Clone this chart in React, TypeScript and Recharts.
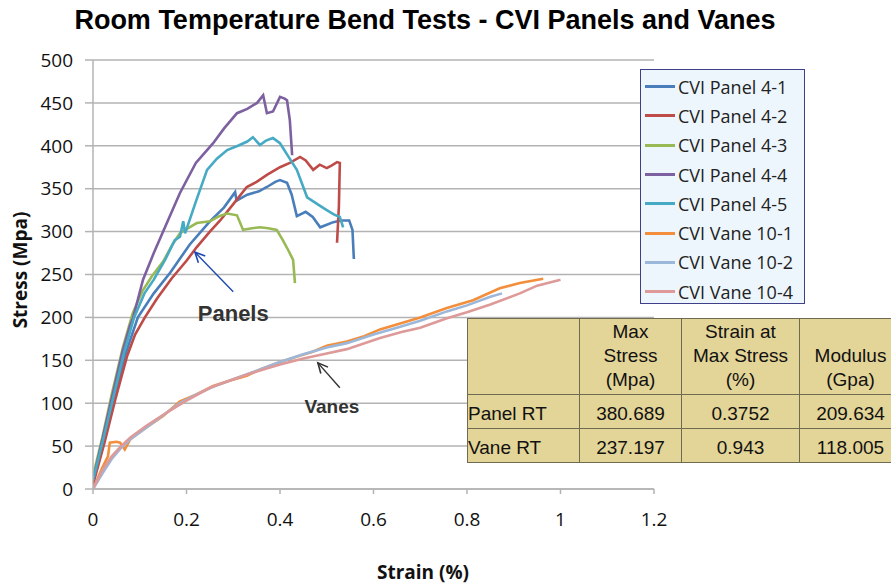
import { LineChart, Line, XAxis, YAxis, CartesianGrid, Legend, ReferenceLine, ReferenceDot } from 'recharts';

const FONT = '"Open Sans", sans-serif';
const ARIAL = '"Liberation Sans", Arial, sans-serif';

// strain (%) / stress (MPa)
const panel41 = [
  { strain: 0, stress: 8 }, { strain: 0.023, stress: 55 }, { strain: 0.045, stress: 105 }, { strain: 0.068, stress: 155 },
  { strain: 0.096, stress: 200 }, { strain: 0.13, stress: 228 }, { strain: 0.165, stress: 252 }, { strain: 0.207, stress: 285 },
  { strain: 0.25, stress: 312 }, { strain: 0.28, stress: 328 }, { strain: 0.304, stress: 346 }, { strain: 0.307, stress: 336 },
  { strain: 0.33, stress: 343 }, { strain: 0.355, stress: 347 }, { strain: 0.372, stress: 352 }, { strain: 0.39, stress: 358 },
  { strain: 0.4, stress: 360 }, { strain: 0.415, stress: 357 }, { strain: 0.425, stress: 343 }, { strain: 0.436, stress: 318 },
  { strain: 0.455, stress: 323 }, { strain: 0.47, stress: 317 }, { strain: 0.486, stress: 305 }, { strain: 0.5, stress: 308 },
  { strain: 0.514, stress: 311 }, { strain: 0.53, stress: 313 }, { strain: 0.548, stress: 313 }, { strain: 0.555, stress: 302 },
  { strain: 0.558, stress: 268 },
];
const panel42 = [
  { strain: 0, stress: 5 }, { strain: 0.025, stress: 55 }, { strain: 0.048, stress: 105 }, { strain: 0.073, stress: 155 },
  { strain: 0.09, stress: 180 }, { strain: 0.111, stress: 200 }, { strain: 0.137, stress: 222 }, { strain: 0.169, stress: 246 },
  { strain: 0.2, stress: 266 }, { strain: 0.222, stress: 282 }, { strain: 0.25, stress: 300 }, { strain: 0.272, stress: 313 },
  { strain: 0.3, stress: 332 }, { strain: 0.329, stress: 352 }, { strain: 0.35, stress: 358 }, { strain: 0.372, stress: 366 },
  { strain: 0.4, stress: 375 }, { strain: 0.421, stress: 380 }, { strain: 0.443, stress: 387 }, { strain: 0.455, stress: 383 },
  { strain: 0.471, stress: 372 }, { strain: 0.485, stress: 378 }, { strain: 0.5, stress: 374 }, { strain: 0.51, stress: 377 },
  { strain: 0.522, stress: 381 }, { strain: 0.528, stress: 380 }, { strain: 0.526, stress: 330 }, { strain: 0.522, stress: 287 },
];
const panel43 = [
  { strain: 0, stress: 15 }, { strain: 0.02, stress: 60 }, { strain: 0.04, stress: 110 }, { strain: 0.064, stress: 165 },
  { strain: 0.085, stress: 205 }, { strain: 0.105, stress: 230 }, { strain: 0.126, stress: 248 }, { strain: 0.15, stress: 265 },
  { strain: 0.17, stress: 285 }, { strain: 0.186, stress: 298 }, { strain: 0.2, stress: 303 }, { strain: 0.222, stress: 310 },
  { strain: 0.25, stress: 312 }, { strain: 0.27, stress: 318 }, { strain: 0.287, stress: 321 }, { strain: 0.308, stress: 319 },
  { strain: 0.321, stress: 302 }, { strain: 0.34, stress: 304 }, { strain: 0.357, stress: 305 }, { strain: 0.375, stress: 304 },
  { strain: 0.393, stress: 302 }, { strain: 0.406, stress: 290 }, { strain: 0.418, stress: 278 }, { strain: 0.428, stress: 267 },
  { strain: 0.432, stress: 240 },
];
const panel44 = [
  { strain: 0, stress: 10 }, { strain: 0.021, stress: 60 }, { strain: 0.042, stress: 110 }, { strain: 0.063, stress: 160 },
  { strain: 0.079, stress: 190 }, { strain: 0.086, stress: 200 }, { strain: 0.107, stress: 244 }, { strain: 0.13, stress: 275 },
  { strain: 0.15, stress: 300 }, { strain: 0.186, stress: 345 }, { strain: 0.22, stress: 380 }, { strain: 0.257, stress: 403 },
  { strain: 0.28, stress: 420 }, { strain: 0.308, stress: 438 }, { strain: 0.33, stress: 443 }, { strain: 0.351, stress: 450 },
  { strain: 0.364, stress: 459 }, { strain: 0.372, stress: 438 }, { strain: 0.385, stress: 440 }, { strain: 0.4, stress: 457 },
  { strain: 0.41, stress: 455 }, { strain: 0.415, stress: 453 }, { strain: 0.421, stress: 430 }, { strain: 0.426, stress: 389 },
];
const panel45 = [
  { strain: 0, stress: 10 }, { strain: 0.022, stress: 58 }, { strain: 0.044, stress: 108 }, { strain: 0.066, stress: 158 },
  { strain: 0.088, stress: 200 }, { strain: 0.11, stress: 228 }, { strain: 0.13, stress: 244 }, { strain: 0.155, stress: 268 },
  { strain: 0.175, stress: 290 }, { strain: 0.186, stress: 294 }, { strain: 0.193, stress: 312 }, { strain: 0.197, stress: 298 },
  { strain: 0.22, stress: 335 }, { strain: 0.244, stress: 372 }, { strain: 0.265, stress: 385 }, { strain: 0.287, stress: 395 },
  { strain: 0.31, stress: 400 }, { strain: 0.33, stress: 405 }, { strain: 0.342, stress: 410 }, { strain: 0.357, stress: 401 },
  { strain: 0.37, stress: 406 }, { strain: 0.385, stress: 409 }, { strain: 0.4, stress: 403 }, { strain: 0.415, stress: 390 },
  { strain: 0.436, stress: 372 }, { strain: 0.458, stress: 340 }, { strain: 0.48, stress: 332 }, { strain: 0.5, stress: 325 },
  { strain: 0.515, stress: 320 }, { strain: 0.528, stress: 317 }, { strain: 0.535, stress: 305 },
];
const vane101 = [
  { strain: 0, stress: 0 }, { strain: 0.02, stress: 25 }, { strain: 0.032, stress: 38 }, { strain: 0.036, stress: 54 },
  { strain: 0.05, stress: 55 }, { strain: 0.058, stress: 54 }, { strain: 0.068, stress: 46 }, { strain: 0.08, stress: 58 },
  { strain: 0.115, stress: 72 }, { strain: 0.15, stress: 85 }, { strain: 0.186, stress: 102 }, { strain: 0.22, stress: 110 },
  { strain: 0.257, stress: 120 }, { strain: 0.29, stress: 126 }, { strain: 0.329, stress: 132 }, { strain: 0.36, stress: 140 },
  { strain: 0.4, stress: 148 }, { strain: 0.44, stress: 155 }, { strain: 0.47, stress: 160 }, { strain: 0.5, stress: 167 },
  { strain: 0.543, stress: 172 }, { strain: 0.58, stress: 178 }, { strain: 0.614, stress: 186 }, { strain: 0.7, stress: 200 },
  { strain: 0.757, stress: 211 }, { strain: 0.813, stress: 220 }, { strain: 0.87, stress: 234 }, { strain: 0.913, stress: 240 },
  { strain: 0.963, stress: 245 },
];
const vane102 = [
  { strain: 0, stress: 0 }, { strain: 0.02, stress: 18 }, { strain: 0.04, stress: 35 }, { strain: 0.06, stress: 48 },
  { strain: 0.08, stress: 58 }, { strain: 0.115, stress: 72 }, { strain: 0.15, stress: 86 }, { strain: 0.186, stress: 100 },
  { strain: 0.22, stress: 110 }, { strain: 0.257, stress: 119 }, { strain: 0.3, stress: 128 }, { strain: 0.35, stress: 138 },
  { strain: 0.4, stress: 148 }, { strain: 0.45, stress: 157 }, { strain: 0.5, stress: 165 }, { strain: 0.543, stress: 170 },
  { strain: 0.6, stress: 180 }, { strain: 0.65, stress: 188 }, { strain: 0.7, stress: 196 }, { strain: 0.757, stress: 207 },
  { strain: 0.8, stress: 214 }, { strain: 0.85, stress: 224 }, { strain: 0.875, stress: 228 },
];
const vane104 = [
  { strain: 0, stress: 0 }, { strain: 0.02, stress: 22 }, { strain: 0.04, stress: 38 }, { strain: 0.06, stress: 50 },
  { strain: 0.08, stress: 60 }, { strain: 0.115, stress: 74 }, { strain: 0.16, stress: 90 }, { strain: 0.2, stress: 103 },
  { strain: 0.25, stress: 118 }, { strain: 0.3, stress: 128 }, { strain: 0.35, stress: 137 }, { strain: 0.4, stress: 145 },
  { strain: 0.45, stress: 152 }, { strain: 0.5, stress: 158 }, { strain: 0.543, stress: 163 }, { strain: 0.614, stress: 176 },
  { strain: 0.66, stress: 183 }, { strain: 0.7, stress: 188 }, { strain: 0.757, stress: 199 }, { strain: 0.8, stress: 206 },
  { strain: 0.85, stress: 215 }, { strain: 0.913, stress: 228 }, { strain: 0.95, stress: 237 }, { strain: 1.0, stress: 244 },
];

const series = [
  { name: 'CVI Panel 4-1', data: panel41, color: '#4a7ebb' },
  { name: 'CVI Panel 4-2', data: panel42, color: '#be4b48' },
  { name: 'CVI Panel 4-3', data: panel43, color: '#98b954' },
  { name: 'CVI Panel 4-4', data: panel44, color: '#7d60a0' },
  { name: 'CVI Panel 4-5', data: panel45, color: '#46aac5' },
  { name: 'CVI Vane 10-1', data: vane101, color: '#f38f3c' },
  { name: 'CVI Vane 10-2', data: vane102, color: '#9bb7da' },
  { name: 'CVI Vane 10-4', data: vane104, color: '#dd9a98' },
];

const xTicks = [0, 0.2, 0.4, 0.6, 0.8, 1, 1.2];
const yTicks = [0, 50, 100, 150, 200, 250, 300, 350, 400, 450, 500];

const tableHeader = ['', 'Max\nStress\n(Mpa)', 'Strain at\nMax Stress\n(%)', 'Modulus\n(Gpa)'];
const tableRows = [
  ['Panel RT', '380.689', '0.3752', '209.634'],
  ['Vane RT', '237.197', '0.943', '118.005'],
];
const colWidths = [112, 102, 118, 102];

const arrowShape = (color: string) => (props: any) => {
  const { x1, y1, x2, y2 } = props;
  const a = Math.atan2(y2 - y1, x2 - x1);
  const len = 11;
  const spread = 0.45;
  const p1 = [x2 - len * Math.cos(a - spread), y2 - len * Math.sin(a - spread)];
  const p2 = [x2 - len * Math.cos(a + spread), y2 - len * Math.sin(a + spread)];
  return (
    <g>
      <line x1={x1} y1={y1} x2={x2} y2={y2} stroke={color} strokeWidth={1.4} />
      <polyline points={`${p1[0]},${p1[1]} ${x2},${y2} ${p2[0]},${p2[1]}`} fill="none" stroke={color} strokeWidth={1.6} />
    </g>
  );
};

const textShape = (txt: string, size: number) => (props: any) => (
  <text x={props.cx} y={props.cy} textAnchor="middle" dominantBaseline="central"
    fontFamily={ARIAL} fontWeight="bold" fontSize={size} fill="#333">{txt}</text>
);

function LegendBox({ payload }: any) {
  return (
    <div style={{ width: 165, height: 235, boxSizing: 'border-box', border: '1.5px solid #3f3f8a', background: '#eef6fd', paddingTop: 2 }}>
      {(payload || []).map((item: any) => (
        <div key={item.value} style={{ display: 'flex', alignItems: 'center', height: 29.3 }}>
          <span style={{ display: 'inline-block', width: 30, height: 3, background: item.color, marginLeft: 4, marginRight: 3 }} />
          <span style={{ fontFamily: FONT, fontSize: 18, color: '#222', whiteSpace: 'nowrap' }}>{item.value}</span>
        </div>
      ))}
    </div>
  );
}

export default function App() {
  const cell = { border: '1.5px solid #6e6b52', padding: '0 0 2px 0', verticalAlign: 'bottom' as const };
  return (
    <div style={{ position: 'fixed', left: 0, top: 0, width: 891, height: 586, overflow: 'hidden', background: '#fff' }}>
      <div style={{ position: 'absolute', left: 0, top: 4, width: 850, textAlign: 'center', fontFamily: ARIAL, fontWeight: 'bold', fontSize: 27, color: '#000', lineHeight: '32px' }}>
        Room Temperature Bend Tests - CVI Panels and Vanes
      </div>
      <LineChart width={891} height={586} margin={{ top: 60, right: 237, bottom: 67, left: 33 }}>
        <CartesianGrid vertical={false} stroke="#b3b3b3" strokeWidth={1.5} />
        <XAxis type="number" dataKey="strain" domain={[0, 1.2]} ticks={xTicks} height={30}
          stroke="#b3b3b3" strokeWidth={1.5} tickSize={5} tickMargin={19}
          tick={{ fill: '#111', fontSize: 19, fontFamily: FONT }} allowDataOverflow />
        <YAxis type="number" domain={[0, 500]} ticks={yTicks} width={60}
          stroke="#b3b3b3" strokeWidth={1.5} tickSize={8} tickMargin={12}
          tick={{ fill: '#111', fontSize: 19, fontFamily: FONT }} />
        <Legend layout="vertical" align="center" verticalAlign="middle"
          wrapperStyle={{ left: 640, top: 69, width: 165, height: 235 }} content={<LegendBox />} />
        {series.map((s) => (
          <Line key={s.name} data={s.data} dataKey="stress" name={s.name} type="linear" stroke={s.color}
            strokeWidth={2.6} dot={false} isAnimationActive={false} />
        ))}
        <ReferenceLine segment={[{ x: 0.3, y: 230 }, { x: 0.218, y: 276 }]} shape={arrowShape('#1f48b0')} />
        <ReferenceLine segment={[{ x: 0.528, y: 118 }, { x: 0.481, y: 147 }]} shape={arrowShape('#333')} />
        <ReferenceDot x={0.3} y={205} r={1} shape={textShape('Panels', 22)} />
        <ReferenceDot x={0.511} y={96} r={1} shape={textShape('Vanes', 19)} />
      </LineChart>
      <div style={{ position: 'absolute', left: -60, top: 257, width: 160, height: 26, textAlign: 'center', transform: 'rotate(-90deg)', fontFamily: FONT, fontWeight: 'bold', fontSize: 19, color: '#111', lineHeight: '26px' }}>
        Stress (Mpa)
      </div>
      <div style={{ position: 'absolute', left: 343, top: 559, width: 160, textAlign: 'center', fontFamily: FONT, fontWeight: 'bold', fontSize: 19, color: '#111', lineHeight: '26px' }}>
        Strain (%)
      </div>
      <table style={{ position: 'absolute', left: 467, top: 318, width: 434, borderCollapse: 'collapse', background: '#e3d497', fontFamily: ARIAL, fontSize: 19, color: '#111', tableLayout: 'fixed' }}>
        <colgroup>
          {colWidths.map((w, i) => <col key={i} style={{ width: w }} />)}
        </colgroup>
        <tbody>
          <tr style={{ height: 76 }}>
            {tableHeader.map((h, i) => (
              <td key={i} style={{ ...cell, textAlign: 'center', lineHeight: '24px', whiteSpace: 'pre-line' }}>{h}</td>
            ))}
          </tr>
          {tableRows.map((r) => (
            <tr key={r[0]} style={{ height: 34 }}>
              {r.map((v, i) => (
                <td key={i} style={{ ...cell, textAlign: i === 0 ? 'left' : 'center', lineHeight: '24px', whiteSpace: 'nowrap' }}>{v}</td>
              ))}
            </tr>
          ))}
        </tbody>
      </table>
    </div>
  );
}
